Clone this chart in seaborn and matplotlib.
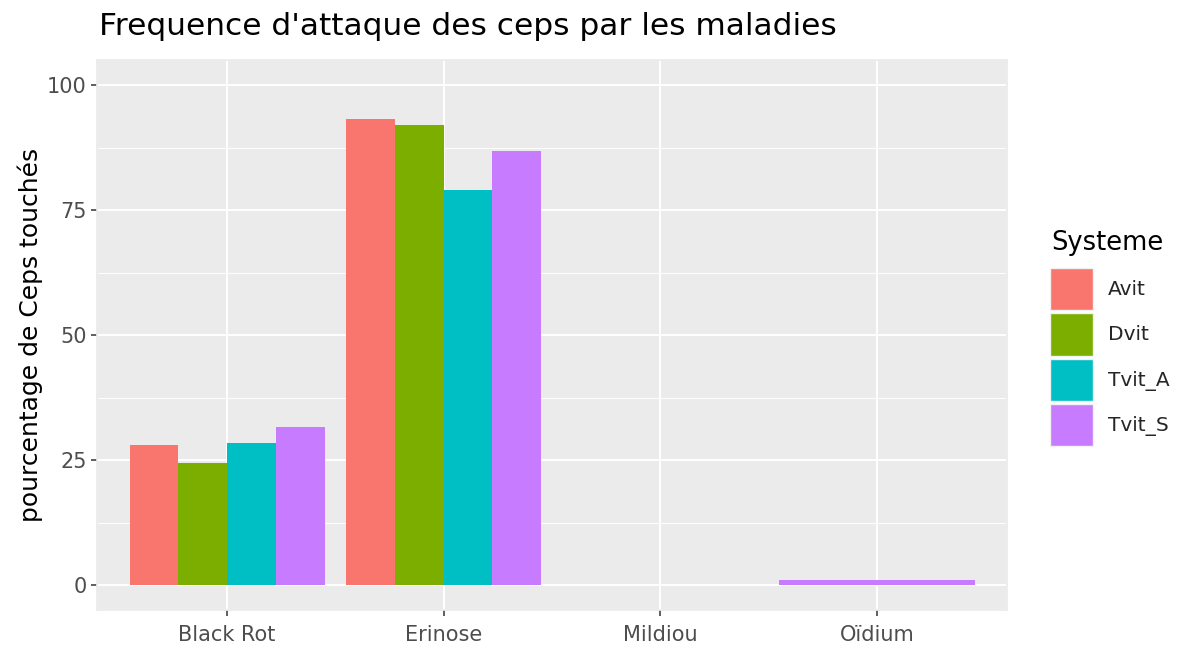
import pandas as pd
import matplotlib.pyplot as plt
import seaborn as sns
from matplotlib.ticker import MultipleLocator

# values
maladies = ['Black Rot', 'Erinose', 'Mildiou', 'Oïdium']
systemes = ['Avit', 'Dvit', 'Tvit_A', 'Tvit_S']
couleurs = ['#F8766D', '#7CAE00', '#00BFC4', '#C77CFF']

# Oïdium only has a Tvit_S value
avit = [28.0, 93.3, 0.0]
dvit = [24.5, 92.1, 0.0]
tvit_a = [28.4, 79.0, 0.0]
tvit_s = [31.6, 86.9, 0.0, 1.1]

rows = []
for sys_name, vals in zip(systemes, [avit, dvit, tvit_a, tvit_s]):
    for maladie, v in zip(maladies, vals):
        rows.append({'Maladie': maladie, 'Systeme': sys_name, 'Pourcentage': v})
df = pd.DataFrame(rows)

sns.set_theme(style='darkgrid', rc={'axes.facecolor': '#EBEBEB', 'grid.color': 'white',
                                    'axes.edgecolor': '#EBEBEB'})
plt.rcParams['font.family'] = ['DejaVu Sans']

W, H = 1183, 651
fig, ax = plt.subplots(figsize=(W / 100, H / 100), dpi=100)
fig.subplots_adjust(left=97 / W, right=1007 / W, top=1 - 60 / H, bottom=1 - 610 / H)

palette = dict(zip(systemes, couleurs))

# categories where every system is present -> dodged bars
complet = df.groupby('Maladie')['Systeme'].transform('count') == len(systemes)
sns.barplot(data=df[complet], x='Maladie', y='Pourcentage', hue='Systeme', order=maladies,
            hue_order=systemes, palette=palette, width=0.9, saturation=1, linewidth=0, ax=ax)

# categories with a single system take the whole width, like ggplot's dodge
seul = df[~complet]
sns.barplot(data=seul, x='Maladie', y='Pourcentage', hue='Systeme', order=maladies,
            hue_order=list(seul['Systeme'].unique()), palette=palette, width=0.9, saturation=1,
            linewidth=0, legend=False, ax=ax)

ax.set_xlim(-0.6, 3.6)
ax.set_ylim(-5, 105)
ax.set_yticks([0, 25, 50, 75, 100])
ax.yaxis.set_minor_locator(MultipleLocator(12.5))
ax.grid(which='major', color='white', linewidth=1.4)
ax.grid(which='minor', axis='y', color='white', linewidth=0.7)
ax.set_axisbelow(True)

ax.tick_params(axis='both', which='major', length=4.5, width=1.1, color='#333333', labelsize=15,
               labelcolor='#4D4D4D', bottom=True, left=True)
ax.tick_params(axis='x', pad=6.5)
ax.tick_params(axis='y', pad=3)
ax.tick_params(axis='y', which='minor', length=0)
ax.set_xlabel('')
ax.set_ylabel('pourcentage de Ceps touchés', fontsize=18, color='black', labelpad=3)

fig.text(99 / W, 1 - 35 / H, "Frequence d'attaque des ceps par les maladies",
         fontsize=22.5, ha='left', va='baseline', color='black')

# legend keys outside the panel, title drawn above them
sns.move_legend(ax, 'upper left', bbox_to_anchor=(1050 / W, 1 - 268 / H),
                bbox_transform=fig.transFigure, frameon=False, title=None, fontsize=14.5,
                handlelength=2.14, handleheight=2.85, handletextpad=0.75, labelspacing=0.15,
                borderpad=0, borderaxespad=0)
for patch in ax.get_legend().get_patches():
    patch.set_edgecolor('#F2F2F2')
    patch.set_linewidth(1)
fig.text(1051 / W, 1 - 250 / H, 'Systeme', fontsize=18.5, ha='left', va='baseline', color='black')

fig.savefig('out.png', dpi=100)
